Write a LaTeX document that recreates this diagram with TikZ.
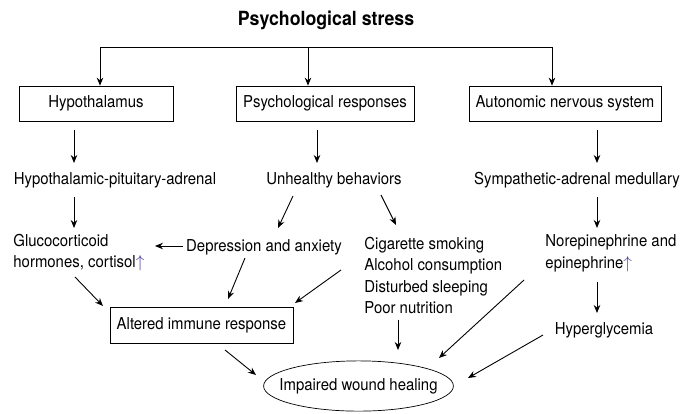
\documentclass[tikz,border=0pt]{standalone}
\usepackage{fontspec}
\setmainfont{TeX Gyre Heros}[FakeStretch=0.91]
\usepackage{tikz}
\usetikzlibrary{shapes.geometric}
\usetikzlibrary{calc,arrows.meta}
\usetikzlibrary{positioning}
\usepackage{xcolor}
\definecolor{uparrow}{HTML}{4B3C9A}
\tikzstyle{stress}=[
  >={Stealth[length=8pt,width=6.5pt]}, line width=0.9pt, x=1pt, y=-1pt,
  font=\fontsize{16.4}{21.6}\selectfont
]
\tikzstyle{mainbox}=[
  draw, rectangle, inner sep=0pt, minimum height=35pt, line width=0.7pt
]
\tikzstyle{txt}=[
  inner sep=3pt, text height=12pt, text depth=3.5pt
]
\tikzstyle{txtblock}=[
  inner sep=0pt, anchor=west, align=left
]
\tikzstyle{oval}=[
  draw, ellipse, inner xsep=-12pt, inner ysep=10pt, line width=0.7pt
]
\newcommand{\up}{{\color{uparrow}$\uparrow$}}

\begin{document}
\begin{tikzpicture}[stress]
  \useasboundingbox (0,0) rectangle (682,413);
  % top level
  \node (title) at (326,20) {\fontsize{19.5}{22}\selectfont\bfseries Psychological stress};
  \coordinate (bar) at (308,47);
  \node (hyp) at (96,103.5) [mainbox, minimum width=154pt] {Hypothalamus};
  \node (psy) at (325,103.5) [mainbox, minimum width=178pt] {Psychological responses};
  \node (ans) at (565,103.5) [mainbox, minimum width=192pt] {Autonomic nervous system};
  \draw [->] (bar) -| ([xshift=4pt]hyp.north);
  \draw [->] (bar) -| ([xshift=-13pt]ans.north);
  \draw [->] (bar) -- (bar |- psy.north);
  % second level
  \node (hpa) at (115,180) [txt] {Hypothalamic-pituitary-adrenal};
  \node (unh) at (334,180) [txt] {Unhealthy behaviors};
  \node (sam) at (577,180) [txt] {Sympathetic-adrenal medullary};
  % third level
  \node (gluco) at (13,252.5) [txtblock] {Glucocorticoid\\hormones, cortisol\up};
  \node (dep) at (264,247) [txt] {Depression and anxiety};
  \node (cig) at (364,275.5) [txtblock] {Cigarette smoking\\Alcohol consumption\\Disturbed sleeping\\Poor nutrition};
  \node (nor) at (545,253.5) [txtblock] {Norepinephrine and\\epinephrine\up};
  \node (hyper) at (604,330) [txt] {Hyperglycemia};
  % bottom
  \node (alt) at (201.5,325) [mainbox, minimum width=183pt, minimum height=36pt] {Altered immune response};
  \node (imp) at (358.5,386) [oval] {Impaired wound healing};
  % arrows
  \draw [->] ($(hyp)+(-22,26.5)$) -- ($(hpa)+(-41,-17)$);
  \draw [->] ($(psy)+(-8,26.5)$) -- ($(unh)+(-17,-17)$);
  \draw [->] ($(ans)+(32,26.5)$) -- ($(sam)+(20,-17)$);
  \draw [->] ($(hpa)+(-41,17)$) -- ($(gluco.west)+(61,-24.5)$);
  \draw [->] ($(unh)+(-41,16)$) -- ($(dep)+(14,-19)$);
  \draw [->] ($(unh)+(47,15)$) -- ($(cig.west)+(32,-50.5)$);
  \draw [->] ($(sam)+(20,17)$) -- ($(nor.west)+(52,-25.5)$);
  \draw [->] ($(dep)+(-81,-1)$) -- ($(gluco.west)+(142,-6.5)$);
  \draw [->] ($(nor.west)+(52,28.5)$) -- ($(hyper)+(-7,-17)$);
  \draw [->] ($(gluco.west)+(62,24.5)$) -- ($(alt)+(-98.5,-19)$);
  \draw [->] ($(dep)+(-19,11)$) -- ($(alt)+(26.5,-26)$);
  \draw [->] ($(cig.west)+(-23,-5.5)$) -- ($(alt)+(93.5,-22)$);
  \draw [->] ($(alt)+(23.5,25)$) -- ($(imp)+(-102.5,-11)$);
  \draw [->] ($(cig.west)+(34,44.5)$) -- ($(imp)+(39.5,-36)$);
  \draw [->] ($(nor.west)+(-21,26.5)$) -- ($(imp)+(80.5,-28)$);
  \draw [->] ($(hyper)+(-61,5)$) -- ($(imp)+(109.5,-8)$);
\end{tikzpicture}
\end{document}
